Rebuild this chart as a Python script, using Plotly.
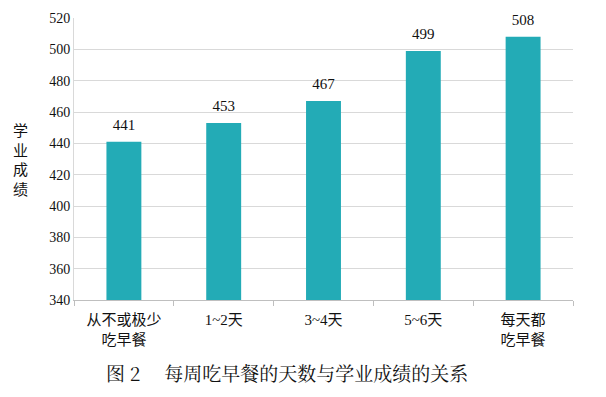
import plotly.graph_objects as go

categories = ["从不或极少<br>吃早餐", "1~2天", "3~4天", "5~6天", "每天都<br>吃早餐"]
values = [441, 453, 467, 499, 508]
y_ticks = [340, 360, 380, 400, 420, 440, 460, 480, 500, 520]

serif = "Liberation Serif, Times New Roman, serif"

fig = go.Figure()
fig.add_trace(go.Bar(
    x=categories, y=values, width=0.35,
    marker=dict(color="#23ABB6", line=dict(width=0)),
))
fig.add_trace(go.Scatter(
    x=categories, y=values, mode="markers+text",
    marker=dict(size=12, opacity=0),
    text=[str(v) for v in values], textposition="top center",
    textfont=dict(family=serif, size=15, color="#111"),
    cliponaxis=False, hoverinfo="skip",
))

fig.update_layout(
    width=606, height=397,
    margin=dict(l=74, r=33, t=18, b=97),
    plot_bgcolor="white", paper_bgcolor="white",
    showlegend=False,
    xaxis=dict(
        type="category", showline=True, linecolor="#BFBFBF", linewidth=1,
        ticks="outside", tickson="boundaries", ticklen=5, tickcolor="#BFBFBF",
        tickfont=dict(family="Liberation Serif, Noto Sans CJK SC, serif", size=15, color="#111"),
        ticklabelstandoff=6,
        showgrid=False,
    ),
    yaxis=dict(
        range=[340, 520], tickvals=y_ticks, showgrid=True, gridcolor="#D9D9D9",
        showline=True, linecolor="#D9D9D9", zeroline=False, ticks="",
        tickfont=dict(family=serif, size=14, color="#111"),
    ),
    annotations=[
        dict(text="学<br>业<br>成<br>绩", x=-0.108, y=0.50, xref="paper", yref="paper",
             xanchor="center", yanchor="middle",
             showarrow=False, font=dict(family="Noto Sans CJK SC", size=15, color="#111")),
        dict(text="图 2　 每周吃早餐的天数与学业成绩的关系", x=0.427, y=-0.258, xref="paper", yref="paper",
             xanchor="center", yanchor="middle",
             showarrow=False, font=dict(family="Noto Serif CJK SC, Noto Sans CJK SC", size=19, color="#111")),
    ],
)
fig.write_html("out.html")
